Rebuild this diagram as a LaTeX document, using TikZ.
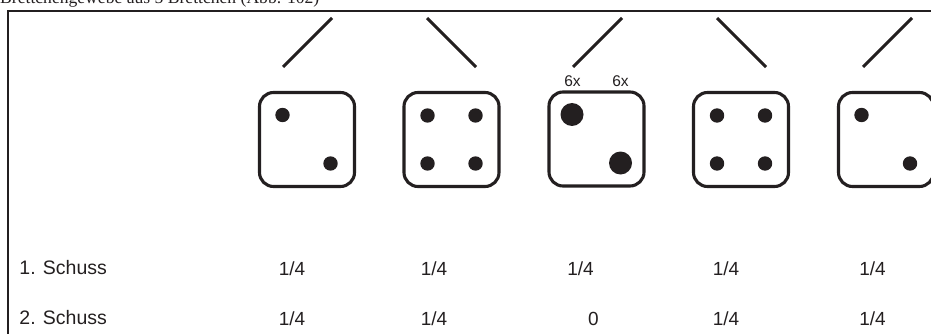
\documentclass[tikz,border=0pt]{standalone}
\usepackage{fontspec}
\usetikzlibrary{calc}
\setmainfont{Liberation Sans}
\newfontfamily\serifface{Liberation Serif}
\definecolor{ink}{RGB}{35,31,32}
\begin{document}
\begin{tikzpicture}[x=1pt,y=-1pt,
  die/.style={draw=ink, line width=3.1pt, rounded corners=14pt,
    minimum width=95pt, minimum height=94pt, inner sep=0pt},
  pip/.style={fill=ink},
  stroke/.style={draw=ink, line width=2.9pt},
  frameline/.style={draw=ink, line width=2pt},
  rowlabel/.style={anchor=base west, inner sep=0pt, font=\fontsize{19.5}{22}\selectfont, text=ink},
  val/.style={anchor=base, inner sep=0pt, font=\fontsize{19}{22}\selectfont, text=ink},
  count/.style={anchor=base, inner sep=0pt, font=\fontsize{15.5}{18}\selectfont, text=ink}]
\useasboundingbox (0,0) rectangle (931,334);
\clip (0,0) rectangle (931,334);

% heading, cut off at the top edge
\node[anchor=base west, inner sep=0pt, font=\serifface\fontsize{17.6}{20}\selectfont, text=ink]
  (title) at (0,4) {Brettchengewebe aus 5 Brettchen (Abb. 102)};

% open frame
\draw[frameline] (8.3,334) -- (8.3,11) -- (931,11);

% slanted strokes above the dice
\draw[stroke] (283,67) -- (332,18);
\draw[stroke] (427,18) -- (476,67);
\draw[stroke] (573,67) -- (622,18);
\draw[stroke] (717,18) -- (766,67);
\draw[stroke] (863,67) -- (912,18);

% dice
\node[die] (d1) at (307,139.5) {};
\node[die] (d2) at (451.5,139.5) {};
\node[die] (d3) at (596.5,139) {};
\node[die] (d4) at (741,139.5) {};
\node[die] (d5) at (886,139.5) {};

% pips
\fill[pip] ($(d1.center)+(-24.5,-24.5)$) circle (7.2);
\fill[pip] ($(d1.center)+(23.5,24)$) circle (7.2);

\foreach \dx in {-24,24}
  \foreach \dy in {-24,24}
    \fill[pip] ($(d2.center)+(\dx,\dy)$) circle (7.2);

\fill[pip] ($(d3.center)+(-24.5,-24.5)$) circle (11.5);
\fill[pip] ($(d3.center)+(24,24)$) circle (11.5);

\foreach \dx in {-24,24}
  \foreach \dy in {-24,24}
    \fill[pip] ($(d4.center)+(\dx,\dy)$) circle (7.2);

\fill[pip] ($(d5.center)+(-24.5,-24.5)$) circle (7.2);
\fill[pip] ($(d5.center)+(24,24)$) circle (7.2);

% counts over the middle die
\node[count] (c1) at (572.5,86.5) {6x};
\node[count] (c2) at (620.5,86.5) {6x};

% row labels
\node[rowlabel] (r1) at (19.3,274) {1. Schuss};
\node[rowlabel] (r2) at (19.3,324) {2. Schuss};

% values
\node[val] (v11) at (292,275) {1/4};
\node[val] (v12) at (434,275) {1/4};
\node[val] (v13) at (580.5,275) {1/4};
\node[val] (v14) at (726,275) {1/4};
\node[val] (v15) at (872.5,275) {1/4};

\node[val] (v21) at (292,325) {1/4};
\node[val] (v22) at (434,325) {1/4};
\node[val] (v23) at (593.5,325) {0};
\node[val] (v24) at (726,325) {1/4};
\node[val] (v25) at (872.5,325) {1/4};
\end{tikzpicture}
\end{document}
